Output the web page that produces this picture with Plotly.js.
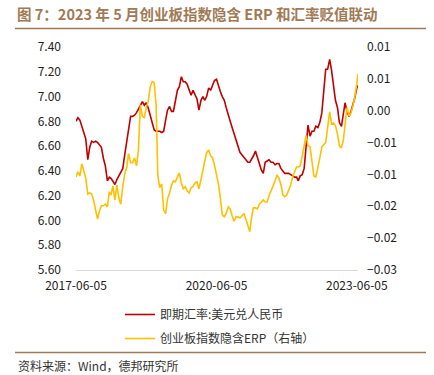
<!DOCTYPE html>
<html>
<head>
<meta charset="utf-8">
<script src="https://cdn.plot.ly/plotly-3.0.1.min.js"></script>
<style>
html,body{margin:0;padding:0;background:#fff;}
#chart{width:434px;height:375px;}
</style>
</head>
<body>
<div id="chart"></div>
<script>
const titleText = "图 7：2023 年 5 月创业板指数隐含 ERP 和汇率贬值联动";
const sourceText = "资料来源：Wind，德邦研究所";
const seriesNames = ["即期汇率:美元兑人民币", "创业板指数隐含ERP（右轴）"];
const xTickLabels = ["2017-06-05", "2020-06-05", "2023-06-05"];
const y2TickVals = [-0.03, -0.024, -0.018, -0.012, -0.006, 0, 0.006, 0.012];

const dates = [
"2017-06-05","2017-06-20","2017-07-05","2017-07-20","2017-08-05","2017-08-20","2017-09-05","2017-09-20","2017-10-05","2017-10-20","2017-11-05","2017-11-20","2017-12-05","2017-12-20",
"2018-01-05","2018-01-20","2018-02-05","2018-02-20","2018-03-05","2018-03-20","2018-04-05","2018-04-20","2018-05-05","2018-05-20","2018-06-05","2018-06-20","2018-07-05","2018-07-20","2018-08-05","2018-08-20","2018-09-05","2018-09-20","2018-10-05","2018-10-20","2018-11-05","2018-11-20","2018-12-05","2018-12-20",
"2019-01-05","2019-01-20","2019-02-05","2019-02-20","2019-03-05","2019-03-20","2019-04-05","2019-04-20","2019-05-05","2019-05-20","2019-06-05","2019-06-20","2019-07-05","2019-07-20","2019-08-05","2019-08-20","2019-09-05","2019-09-20","2019-10-05","2019-10-20","2019-11-05","2019-11-20","2019-12-05","2019-12-20",
"2020-01-05","2020-01-20","2020-02-05","2020-02-20","2020-03-05","2020-03-20","2020-04-05","2020-04-20","2020-05-05","2020-05-20","2020-06-05","2020-06-20","2020-07-05","2020-07-20","2020-08-05","2020-08-20","2020-09-05","2020-09-20","2020-10-05","2020-10-20","2020-11-05","2020-11-20","2020-12-05","2020-12-20",
"2021-01-05","2021-01-20","2021-02-05","2021-02-20","2021-03-05","2021-03-20","2021-04-05","2021-04-20","2021-05-05","2021-05-20","2021-06-05","2021-06-20","2021-07-05","2021-07-20","2021-08-05","2021-08-20","2021-09-05","2021-09-20","2021-10-05","2021-10-20","2021-11-05","2021-11-20","2021-12-05","2021-12-20",
"2022-01-05","2022-01-20","2022-02-05","2022-02-20","2022-03-05","2022-03-20","2022-04-05","2022-04-20","2022-05-05","2022-05-20","2022-06-05","2022-06-20","2022-07-05","2022-07-20","2022-08-05","2022-08-20","2022-09-05","2022-09-20","2022-10-05","2022-10-20","2022-11-05","2022-11-20","2022-12-05","2022-12-20",
"2023-01-05","2023-01-20","2023-02-05","2023-02-20","2023-03-05","2023-03-20","2023-04-05","2023-04-20","2023-05-05","2023-05-20","2023-06-05","2023-06-14"
];

const usdcny = [
6.80,6.83,6.81,6.76,6.72,6.66,6.49,6.59,6.64,6.63,
6.64,6.63,6.61,6.59,6.50,6.44,6.32,6.35,6.34,6.31,
6.29,6.33,6.36,6.39,6.42,6.53,6.63,6.76,6.84,6.84,
6.85,6.87,6.90,6.94,6.96,6.93,6.95,6.91,6.85,6.78,
6.73,6.72,6.72,6.72,6.71,6.72,6.81,6.89,6.92,6.88,
6.88,6.97,7.05,7.08,7.16,7.12,7.12,7.10,7.06,7.01,
7.05,7.01,6.98,6.89,6.97,7.00,6.97,7.00,7.07,7.05,
7.10,7.13,7.14,7.08,7.04,7.00,6.97,6.91,6.84,6.80,
6.75,6.70,6.65,6.59,6.55,6.53,6.51,6.49,6.47,6.47,
6.49,6.52,6.56,6.51,6.47,6.41,6.38,6.47,6.48,6.49,
6.47,6.47,6.45,6.46,6.46,6.42,6.40,6.38,6.38,6.38,
6.37,6.36,6.35,6.35,6.32,6.36,6.37,6.42,6.61,6.77,
6.68,6.72,6.72,6.76,6.75,6.79,6.87,7.05,7.22,7.22,
7.30,7.21,7.09,6.97,6.91,6.79,6.76,6.88,6.95,6.88,
6.84,6.88,6.93,6.99,7.07,7.09
];

const erp = [
-0.0125,-0.0115,-0.0123,-0.0100,-0.0113,-0.0127,-0.0157,-0.0155,-0.0157,-0.0168,
-0.0187,-0.0204,-0.0189,-0.0179,-0.0179,-0.0176,-0.0181,-0.0153,-0.0159,-0.0142,
-0.0168,-0.0140,-0.0164,-0.0176,-0.0143,-0.0119,-0.0108,-0.0081,-0.0098,-0.0098,
-0.0089,-0.0104,-0.0074,0.0011,-0.0011,-0.0013,0.0006,0.0017,0.0045,0.0055,
0.0053,0.0011,-0.0121,-0.0145,-0.0138,-0.0187,-0.0194,-0.0166,-0.0155,-0.0140,
-0.0132,-0.0134,-0.0125,-0.0117,-0.0136,-0.0147,-0.0143,-0.0151,-0.0155,-0.0145,
-0.0143,-0.0136,-0.0134,-0.0147,-0.0130,-0.0115,-0.0096,-0.0079,-0.0074,-0.0085,
-0.0089,-0.0102,-0.0119,-0.0138,-0.0164,-0.0196,-0.0200,-0.0193,-0.0181,-0.0185,
-0.0198,-0.0208,-0.0200,-0.0200,-0.0202,-0.0198,-0.0194,-0.0204,-0.0215,-0.0228,
-0.0202,-0.0183,-0.0183,-0.0185,-0.0176,-0.0172,-0.0168,-0.0172,-0.0172,-0.0160,
-0.0149,-0.0142,-0.0132,-0.0121,-0.0127,-0.0138,-0.0159,-0.0162,-0.0159,-0.0149,
-0.0140,-0.0125,-0.0115,-0.0106,-0.0106,-0.0104,-0.0085,-0.0064,-0.0047,-0.0066,
-0.0068,-0.0096,-0.0123,-0.0125,-0.0108,-0.0089,-0.0068,-0.0064,-0.0060,-0.0032,
-0.0002,-0.0025,-0.0023,-0.0028,-0.0044,-0.0066,-0.0070,-0.0055,-0.0025,0.0006,
-0.0010,-0.0004,0.0009,0.0026,0.0051,0.0070
];

const FONT = "Noto Sans CJK SC, sans-serif";
const BROWN = "#a07a55";

const traces = [
  {x: dates, y: usdcny, name: seriesNames[0], type: "scatter", mode: "lines",
   line: {color: "#c00000", width: 1.6}, legendgroup: "a", yaxis: "y"},
  {x: dates, y: erp, name: seriesNames[1], type: "scatter", mode: "lines",
   line: {color: "#ffc000", width: 1.6}, legendgroup: "b", yaxis: "y2"}
];

const layout = {
  width: 434, height: 375,
  margin: {l: 76, r: 76, t: 47, b: 105, pad: 0},
  paper_bgcolor: "#fff", plot_bgcolor: "#fff",
  font: {family: FONT, size: 12, color: "#222"},
  title: {text: titleText, x: 17/434, xanchor: "left", xref: "container",
          y: 1 - 15/375, yanchor: "middle", yref: "container",
          font: {family: FONT, size: 14.5, color: BROWN, weight: "bold"}},
  showlegend: true,
  legend: {x: (120-76)/282, xanchor: "left", y: (270-300)/223, yanchor: "top",
           orientation: "v", tracegroupgap: 5, font: {family: FONT, size: 12, color: "#333"},
           bgcolor: "rgba(0,0,0,0)"},
  xaxis: {type: "date", range: ["2017-06-05", "2023-06-14"],
          tickvals: xTickLabels, ticktext: xTickLabels,
          showgrid: false, zeroline: false, showline: true, linecolor: "#d9d9d9", linewidth: 1,
          ticks: "", ticklabelstandoff: 5, tickfont: {family: FONT, size: 12, color: "#222"}},
  yaxis: {range: [5.6, 7.4], dtick: 0.2, tick0: 5.6, tickformat: ".2f",
          showgrid: false, zeroline: false, showline: false, ticks: "",
          ticklabelstandoff: 14, tickfont: {family: FONT, size: 12, color: "#222"}},
  yaxis2: {range: [-0.03, 0.012], overlaying: "y", side: "right",
           tickvals: y2TickVals, tickformat: ".2f",
           showgrid: false, zeroline: false, showline: false, ticks: "",
           ticklabelstandoff: 8, tickfont: {family: FONT, size: 12, color: "#222"}},
  shapes: [
    {type: "line", xref: "paper", yref: "paper", x0: (15-76)/282, x1: (426-76)/282,
     y0: (270-28.5)/223, y1: (270-28.5)/223, line: {color: BROWN, width: 1.5}},
    {type: "line", xref: "paper", yref: "paper", x0: (15-76)/282, x1: (426-76)/282,
     y0: (270-352.5)/223, y1: (270-352.5)/223, line: {color: BROWN, width: 1.5}}
  ],
  annotations: [
    {text: sourceText, xref: "paper", yref: "paper", x: (16-76)/282, y: (270-365.5)/223,
     xanchor: "left", yanchor: "middle", showarrow: false,
     font: {family: FONT, size: 12, color: "#333"}}
  ]
};

Plotly.newPlot("chart", traces, layout, {staticPlot: true, displayModeBar: false});
</script>
</body>
</html>
